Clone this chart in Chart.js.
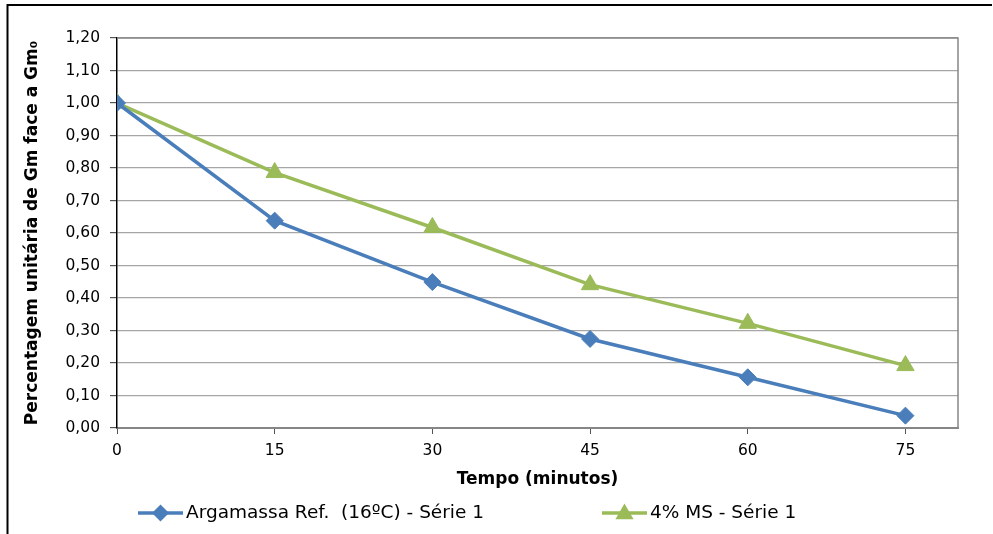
<!DOCTYPE html>
<html>
<head>
<meta charset="utf-8">
<script src="https://cdn.jsdelivr.net/npm/chart.js@4/dist/chart.umd.min.js"></script>
<style>
  html, body { margin: 0; padding: 0; background: #fff; }
  #wrap { width: 993px; height: 534px; position: relative; }
</style>
</head>
<body>
<div id="wrap"><canvas id="c" width="993" height="534"></canvas></div>
<script>
// Time in minutes and unit ratio Gm / Gm0 for each mortar series
const tempo = [0, 15, 30, 45, 60, 75];
const argamassaRef = [1.00, 0.638, 0.449, 0.274, 0.156, 0.038];
const ms4 = [1.00, 0.786, 0.617, 0.441, 0.322, 0.192];
const xTicks = [0, 15, 30, 45, 60, 75];
const yTicks = [0, 0.1, 0.2, 0.3, 0.4, 0.5, 0.6, 0.7, 0.8, 0.9, 1.0, 1.1, 1.2];
const seriesNames = ['Argamassa Ref.  (16ºC) - Série 1', '4% MS - Série 1'];

const FONT = "'DejaVu Sans', sans-serif";
const BLUE = '#4A7EBB';
const GREEN = '#9BBB59';

const toPoints = (ys) => tempo.map((t, i) => ({ x: t, y: ys[i] }));

// Outer frame, right plot edge and the bottom legend
const decor = {
  id: 'decor',
  beforeDraw(chart) {
    const ctx = chart.ctx;
    ctx.save();
    ctx.fillStyle = '#fff';
    ctx.fillRect(0, 0, chart.width, chart.height);
    ctx.strokeStyle = '#000';
    ctx.lineWidth = 2;
    ctx.beginPath();
    ctx.moveTo(7.5, chart.height);
    ctx.lineTo(7.5, 5);
    ctx.lineTo(992, 5);
    ctx.stroke();
    ctx.restore();
  },
  afterDraw(chart) {
    const ctx = chart.ctx;
    const a = chart.chartArea;
    ctx.save();
    ctx.strokeStyle = '#868686';
    ctx.lineWidth = 1.5;
    ctx.beginPath();
    ctx.moveTo(a.left, a.top);
    ctx.lineTo(a.right, a.top);
    ctx.lineTo(a.right, a.bottom);
    ctx.stroke();
    ctx.restore();

    // legend
    const starts = [138, 602];
    const y = 513;
    chart.data.datasets.forEach((ds, i) => {
      const x0 = starts[i];
      ctx.save();
      ctx.strokeStyle = ds.borderColor;
      ctx.lineWidth = 3.5;
      ctx.beginPath();
      ctx.moveTo(x0, y);
      ctx.lineTo(x0 + 45, y);
      ctx.stroke();
      Chart.helpers.drawPoint(ctx, {
        pointStyle: ds.pointStyle,
        radius: ds.pointStyle === 'triangle' ? 7 : 6,
        rotation: 0,
        borderWidth: 1
      }, x0 + 22.5, ds.pointStyle === 'triangle' ? y + 1 : y);
      ctx.fillStyle = ds.backgroundColor;
      ctx.fill();
      ctx.fillStyle = '#000';
      ctx.font = '18.5px ' + FONT;
      ctx.textBaseline = 'middle';
      ctx.textAlign = 'left';
      ctx.fillText(ds.label, x0 + 48, y);
      ctx.restore();
    });
  }
};

new Chart(document.getElementById('c'), {
  type: 'line',
  data: {
    datasets: [
      {
        label: seriesNames[0],
        data: toPoints(argamassaRef),
        borderColor: BLUE,
        backgroundColor: BLUE,
        borderWidth: 3.5,
        pointStyle: 'rectRot',
        pointRadius: 8.5,
        pointBorderWidth: 1,
        tension: 0
      },
      {
        label: seriesNames[1],
        data: toPoints(ms4),
        borderColor: GREEN,
        backgroundColor: GREEN,
        borderWidth: 3.5,
        pointStyle: 'triangle',
        pointRadius: 10,
        pointBorderWidth: 1,
        tension: 0
      }
    ]
  },
  options: {
    responsive: false,
    animation: false,
    layout: { padding: { left: 18, top: 38, right: 35, bottom: 40 } },
    plugins: {
      legend: { display: false },
      tooltip: { enabled: false }
    },
    scales: {
      x: {
        type: 'linear',
        min: 0,
        max: 80,
        afterBuildTicks(scale) { scale.ticks = xTicks.map(v => ({ value: v })); },
        afterFit(scale) { scale.height = 66; },
        grid: { drawOnChartArea: false, drawTicks: true, tickLength: 6, color: '#868686', tickColor: '#555' },
        border: { color: '#868686', width: 2 },
        ticks: { color: '#000', padding: 8, font: { family: FONT, size: 15.5 }, maxRotation: 0, autoSkip: false },
        title: { display: true, text: 'Tempo (minutos)', color: '#000', font: { family: FONT, size: 17, weight: 'bold' }, padding: { top: 4, bottom: 4 } }
      },
      y: {
        min: 0,
        max: 1.2,
        afterBuildTicks(scale) { scale.ticks = yTicks.map(v => ({ value: v })); },
        afterFit(scale) { scale.width = 99; },
        grid: { color: '#a6a6a6', lineWidth: 1.2, tickLength: 7, tickColor: '#555' },
        border: { color: '#000', width: 1.5 },
        ticks: {
          color: '#000',
          padding: 10,
          font: { family: FONT, size: 15.5 },
          callback: (v) => v.toFixed(2).replace('.', ',')
        },
        title: { display: true, text: 'Percentagem unitária de Gm face a Gm₀', color: '#000', font: { family: FONT, size: 17, weight: 'bold' }, padding: { top: 4, bottom: 4 } }
      }
    }
  },
  plugins: [decor]
});
</script>
</body>
</html>
